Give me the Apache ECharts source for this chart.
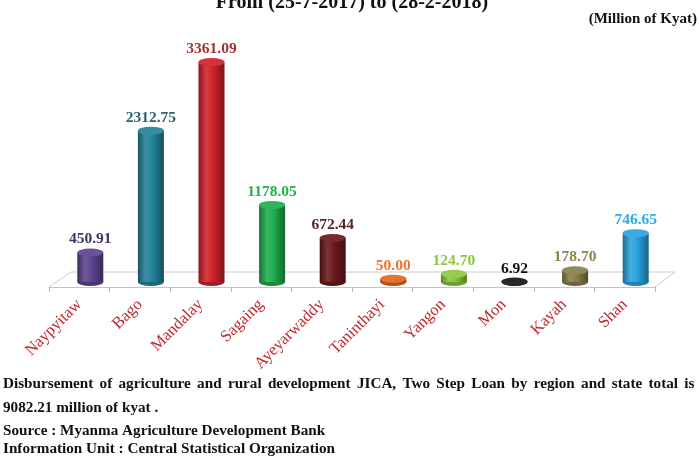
<!DOCTYPE html>
<html>
<head>
<meta charset="utf-8">
<script src="https://cdn.jsdelivr.net/npm/echarts@6/dist/echarts.min.js"></script>
<style>
  html, body { margin: 0; padding: 0; background: #fff; }
  #main { width: 699px; height: 456px; }
</style>
</head>
<body>
<div id="main"></div>
<script>
// data (Million of Kyat)
var categories = ['Naypyitaw', 'Bago', 'Mandalay', 'Sagaing', 'Ayeyarwaddy', 'Taninthayi', 'Yangon', 'Mon', 'Kayah', 'Shan'];
var values = [450.91, 2312.75, 3361.09, 1178.05, 672.44, 50.00, 124.70, 6.92, 178.70, 746.65];

// colours of each cylinder and of its value label
var barColors = ['#5d4290', '#23839b', '#d1212a', '#1fae4b', '#6a1a1c', '#e4661d', '#8cc63f', '#151515', '#86804a', '#2aa3dd'];
var labelColors = ['#3f3360', '#2b6274', '#a03236', '#24b04c', '#5c1f22', '#ea762b', '#8cc63f', '#111111', '#8a8450', '#2aaae2'];

var serif = '"Liberation Serif", "Times New Roman", serif';

function shade(hex, f) {
  var n = parseInt(hex.slice(1), 16);
  var r = (n >> 16) & 255, g = (n >> 8) & 255, b = n & 255;
  function c(v) {
    v = f < 0 ? v * (1 + f) : v + (255 - v) * f;
    return Math.max(0, Math.min(255, Math.round(v)));
  }
  return 'rgb(' + c(r) + ',' + c(g) + ',' + c(b) + ')';
}

function bodyGradient(col) {
  return new echarts.graphic.LinearGradient(0, 0, 1, 0, [
    { offset: 0, color: shade(col, -0.35) },
    { offset: 0.3, color: shade(col, 0.12) },
    { offset: 0.55, color: col },
    { offset: 1, color: shade(col, -0.4) }
  ]);
}

var bodyData = values.map(function (v, i) {
  return {
    value: v,
    itemStyle: { color: bodyGradient(barColors[i]) },
    label: { color: labelColors[i] }
  };
});
var topData = values.map(function (v, i) {
  return { value: v, itemStyle: { color: shade(barColors[i], 0.08) } };
});
var bottomData = values.map(function (v, i) {
  return { value: v, itemStyle: { color: shade(barColors[i], -0.2) } };
});

// first line of the note is justified across the page
var note1 = 'Disbursement of agriculture and rural development JICA, Two Step Loan by region and state total is';
var note1Rich = note1.split(' ').join('{g| }');
var noteFont = 'bold 15.2px ' + serif;

var myChart = echarts.init(document.getElementById('main'));
var option = {
  backgroundColor: '#ffffff',
  animation: false,
  grid: [
    { left: 60, right: 33, top: 53, bottom: 174 },   // cylinders (drawn with a depth shift)
    { left: 49, right: 44, top: 53, bottom: 169 }    // front edge of the floor with labels
  ],
  xAxis: [
    {
      type: 'category', gridIndex: 0, data: categories,
      axisLine: { show: false }, axisTick: { show: false }, axisLabel: { show: false }
    },
    {
      type: 'category', gridIndex: 1, data: categories,
      axisLine: { show: true, lineStyle: { color: '#c4c4c4', width: 1 } },
      axisTick: { show: true, length: 5, lineStyle: { color: '#b5b5b5' } },
      axisLabel: {
        interval: 0, rotate: 45, margin: 15,
        color: '#c1272d', fontFamily: serif, fontSize: 16.5
      }
    }
  ],
  yAxis: [
    { type: 'value', gridIndex: 0, min: 0, max: 3500, show: false },
    { type: 'value', gridIndex: 1, min: 0, max: 3500, show: false }
  ],
  series: [
    {
      type: 'pictorialBar', xAxisIndex: 0, yAxisIndex: 0,
      symbol: 'circle', symbolSize: [26, 8], symbolOffset: [0, '50%'],
      z: 1, data: bottomData, silent: true
    },
    {
      type: 'bar', xAxisIndex: 0, yAxisIndex: 0,
      barWidth: 26, z: 2, data: bodyData,
      label: {
        show: true, position: 'top', distance: 5,
        fontFamily: serif, fontWeight: 'bold', fontSize: 15.5,
        formatter: function (p) { return p.value.toFixed(2); }
      }
    },
    {
      type: 'pictorialBar', xAxisIndex: 0, yAxisIndex: 0,
      symbol: 'circle', symbolSize: [26, 8], symbolPosition: 'end', symbolOffset: [0, '-50%'],
      z: 3, data: topData, silent: true
    }
  ],
  graphic: [
    {
      type: 'polyline', z: 0, silent: true,
      shape: { points: [[49, 287], [71, 272], [675, 272], [655, 287]] },
      style: { stroke: '#cccccc', lineWidth: 1, fill: null }
    },
    {
      type: 'text', x: 352, y: 13,
      style: {
        text: 'From (25-7-2017) to (28-2-2018)', font: 'bold 20px ' + serif,
        fill: '#111', textAlign: 'center', textVerticalAlign: 'bottom'
      }
    },
    {
      type: 'text', x: 697, y: 19,
      style: {
        text: '(Million of Kyat)', font: 'bold 15px ' + serif,
        fill: '#111', textAlign: 'right', textVerticalAlign: 'middle'
      }
    },
    {
      type: 'text', x: 3, y: 384,
      style: {
        text: note1Rich, font: noteFont, fill: '#111',
        textVerticalAlign: 'middle',
        rich: { g: { width: 6.3, font: noteFont } }
      }
    },
    {
      type: 'text', x: 3, y: 408,
      style: { text: '9082.21 million of kyat .', font: noteFont, fill: '#111', textVerticalAlign: 'middle' }
    },
    {
      type: 'text', x: 3, y: 431,
      style: { text: 'Source : Myanma Agriculture Development Bank', font: noteFont, fill: '#111', textVerticalAlign: 'middle' }
    },
    {
      type: 'text', x: 3, y: 449,
      style: { text: 'Information Unit : Central Statistical Organization', font: noteFont, fill: '#111', textVerticalAlign: 'middle' }
    }
  ]
};
myChart.setOption(option);
window.addEventListener('resize', function () {
  myChart.resize();
});
</script>
</body>
</html>
